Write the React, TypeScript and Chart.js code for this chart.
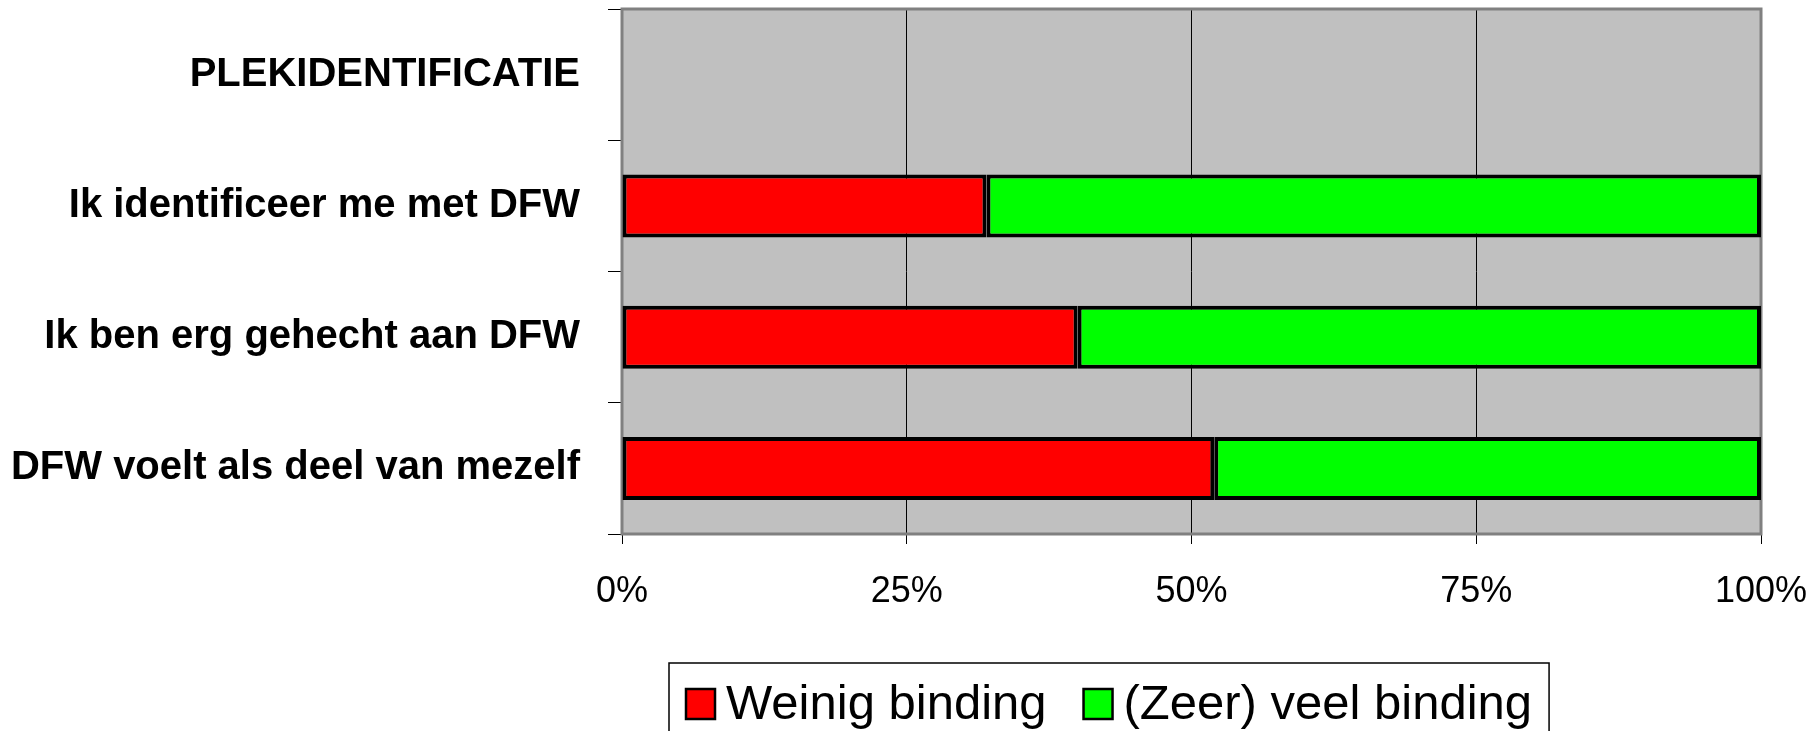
import React, { useEffect, useRef } from 'react';
import { Chart, registerables } from 'chart.js';

Chart.register(...registerables);

const categories = [
  'PLEKIDENTIFICATIE',
  'Ik identificeer me met DFW',
  'Ik ben erg gehecht aan DFW',
  'DFW voelt als deel van mezelf',
];
const seriesNames = ['Weinig binding', '(Zeer) veel binding'];
const weinigBinding = [null, 32, 40, 52];
const veelBinding = [null, 68, 60, 48];
const xTickLabels = ['0%', '25%', '50%', '75%', '100%'];

const FONT = '"Liberation Sans", Arial, Helvetica, sans-serif';

const plotBgPlugin = {
  id: 'plotBg',
  beforeDraw(chart: any) {
    const { ctx, chartArea } = chart;
    ctx.save();
    ctx.fillStyle = '#C0C0C0';
    ctx.fillRect(chartArea.left, chartArea.top, chartArea.right - chartArea.left, chartArea.bottom - chartArea.top);
    ctx.restore();
  },
  beforeDatasetsDraw(chart: any) {
    const { ctx, chartArea } = chart;
    ctx.save();
    ctx.strokeStyle = '#808080';
    ctx.lineWidth = 3;
    ctx.strokeRect(chartArea.left, chartArea.top, chartArea.right - chartArea.left, chartArea.bottom - chartArea.top);
    ctx.restore();
  },
};

const boxLegendPlugin = {
  id: 'boxLegend',
  afterDraw(chart: any) {
    const ctx = chart.ctx;
    ctx.save();
    ctx.font = '49px ' + FONT;
    ctx.textBaseline = 'alphabetic';
    ctx.textAlign = 'left';
    const boxLeft = 669;
    const boxTop = 663;
    const sw = 29;
    const swTop = 689;
    const baseline = 719;
    const gapAfter = 37;
    let x = 686;
    chart.data.datasets.forEach((ds: any) => {
      ctx.fillStyle = ds.backgroundColor;
      ctx.fillRect(x, swTop, sw, 30);
      ctx.strokeStyle = '#000';
      ctx.lineWidth = 2.5;
      ctx.strokeRect(x, swTop, sw, 30);
      const tx = x + sw + 11;
      ctx.fillStyle = '#000';
      ctx.fillText(ds.label, tx, baseline);
      const w = ctx.measureText(ds.label).width;
      x = tx + w + gapAfter;
    });
    const boxRight = x - gapAfter + 17;
    ctx.strokeStyle = '#000';
    ctx.lineWidth = 1.5;
    ctx.strokeRect(boxLeft, boxTop, boxRight - boxLeft, 120);
    ctx.restore();
  },
};

export default function App() {
  const ref = useRef<HTMLCanvasElement>(null);

  useEffect(() => {
    if (!ref.current) return;
    const chart = new Chart(ref.current, {
      type: 'bar',
      data: {
        labels: categories,
        datasets: [
          {
            label: seriesNames[0],
            data: weinigBinding,
            backgroundColor: '#FF0000',
            borderColor: '#000000',
            borderWidth: 4,
            borderSkipped: false,
            barPercentage: 0.48,
            categoryPercentage: 1,
          },
          {
            label: seriesNames[1],
            data: veelBinding,
            backgroundColor: '#00FF00',
            borderColor: '#000000',
            borderWidth: 4,
            borderSkipped: false,
            barPercentage: 0.48,
            categoryPercentage: 1,
          },
        ],
      },
      options: {
        indexAxis: 'y',
        responsive: false,
        animation: false,
        devicePixelRatio: 1,
        layout: { padding: { left: 0, top: 9, right: 54, bottom: 0 } },
        plugins: {
          legend: { display: false },
          tooltip: { enabled: false },
          title: { display: false },
        },
        scales: {
          x: {
            stacked: true,
            min: 0,
            max: 100,
            ticks: {
              stepSize: 25,
              color: '#000',
              font: { family: FONT, size: 36 },
              padding: 26,
              maxRotation: 0,
              callback: (_v: any, i: number) => xTickLabels[i],
            },
            grid: {
              color: '#000',
              lineWidth: 1,
              drawOnChartArea: true,
              drawTicks: true,
              tickLength: 10,
            },
            border: { display: false },
            afterFit: (scale: any) => {
              scale.height = 197;
              scale.paddingLeft = 0;
              scale.paddingRight = 0;
            },
          },
          y: {
            stacked: true,
            ticks: {
              color: '#000',
              font: { family: FONT, size: 40, weight: 'bold' },
              padding: 28,
            },
            grid: {
              color: '#000',
              lineWidth: 1,
              drawOnChartArea: false,
              drawTicks: true,
              tickLength: 14,
              offset: true,
            },
            border: { display: false },
            afterFit: (scale: any) => {
              scale.width = 622;
              scale.paddingTop = 0;
              scale.paddingBottom = 0;
            },
          },
        },
      },
      plugins: [plotBgPlugin, boxLegendPlugin],
    } as any);
    return () => chart.destroy();
  }, []);

  return (
    <div style={{ position: 'absolute', left: 0, top: 0, width: 1815, height: 731, background: '#fff' }}>
      <canvas ref={ref} width={1815} height={731} style={{ display: 'block' }} />
    </div>
  );
}
